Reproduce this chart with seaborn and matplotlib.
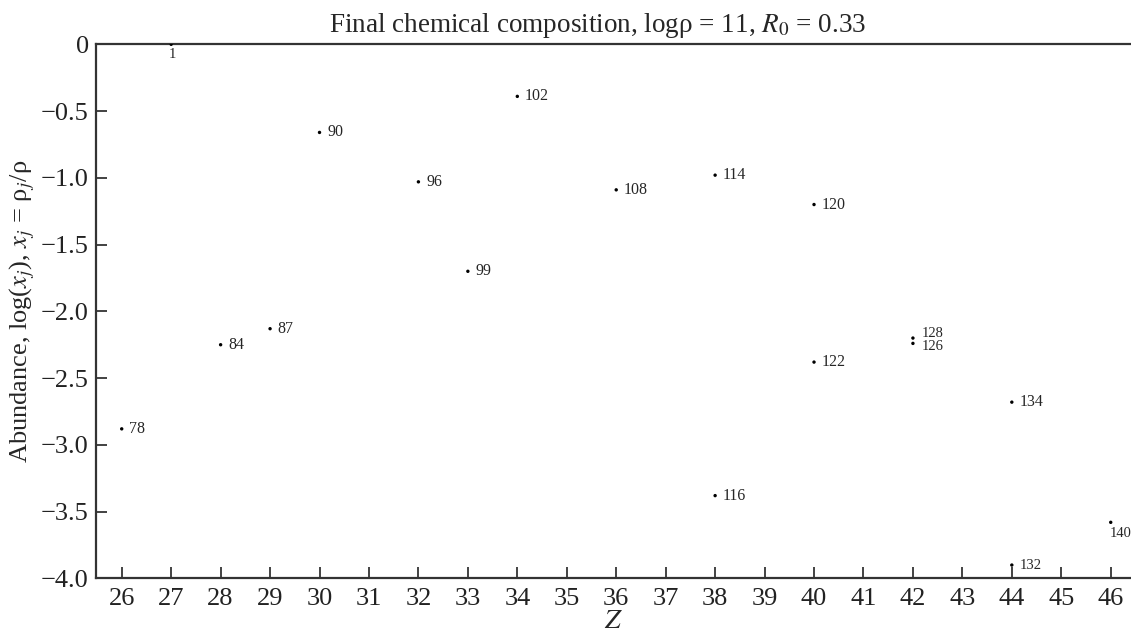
import matplotlib
matplotlib.use("Agg")
import matplotlib.pyplot as plt
import seaborn as sns
import pandas as pd

# Final abundances: proton number, log mass fraction, mass number label
charge_z = [27, 26, 28, 29, 30, 32, 33, 34, 36, 38, 38, 40, 40, 42, 42, 44, 44, 46]
log_abundance = [0.0, -2.88, -2.25, -2.13, -0.66, -1.03, -1.70, -0.39, -1.09,
                 -0.98, -3.38, -1.20, -2.38, -2.20, -2.24, -2.68, -3.90, -3.58]
mass_number = ["1", "78", "84", "87", "90", "96", "99", "102", "108",
               "114", "116", "120", "122", "128", "126", "134", "132", "140"]

z_ticks = list(range(26, 47))
y_ticks = [0, -0.5, -1.0, -1.5, -2.0, -2.5, -3.0, -3.5, -4.0]
y_tick_labels = ["0", "\u22120.5", "\u22121.0", "\u22121.5", "\u22122.0",
                 "\u22122.5", "\u22123.0", "\u22123.5", "\u22124.0"]

sns.set_style("ticks")
plt.rcParams["font.family"] = ["Liberation Serif", "DejaVu Serif"]
plt.rcParams["mathtext.fontset"] = "stix"

df = pd.DataFrame({"Z": charge_z, "logx": log_abundance, "A": mass_number})

fig = plt.figure(figsize=(11.31, 6.28), dpi=100)
ax = fig.add_axes([95.7 / 1131, 1 - 578.4 / 628, 1 - 95.7 / 1131, (578.4 - 44.3) / 628])

sns.scatterplot(data=df, x="Z", y="logx", ax=ax, color="black", s=6,
                edgecolor="none", linewidth=0, zorder=3)

# label offsets in points (dx, dy, ha, va)
offsets = {"1": (1, -7.5, "center", "center"),
           "128": (6.5, 3.5, "left", "center"),
           "126": (6.5, -2.5, "left", "center"),
           "140": (-0.5, -3.5, "left", "top")}
for z, v, a in zip(charge_z, log_abundance, mass_number):
    dx, dy, ha, va = offsets.get(a, (5.5, 0, "left", "center"))
    size = 10.5 if a in ("1", "128", "126", "132", "140") else 11.5
    ax.annotate(a, (z, v), xytext=(dx, dy), textcoords="offset points",
                ha=ha, va=va, fontsize=size, annotation_clip=False)

ax.set_xlim(25.474, 46.41)
ax.set_ylim(-4.0, 0.0)
ax.set_xticks(z_ticks)
ax.set_xticklabels([str(t) for t in z_ticks])
ax.set_yticks(y_ticks)
ax.set_yticklabels(y_tick_labels)
ax.tick_params(axis="both", direction="in", length=8, width=1.2,
               labelsize=19, colors="#222222")
ax.tick_params(axis="x", pad=7)
ax.tick_params(axis="y", pad=5)

for side in ("left", "top", "bottom"):
    ax.spines[side].set_linewidth(1.6)
    ax.spines[side].set_color("#333333")
ax.spines["right"].set_visible(False)

ax.set_xlabel("$Z$", fontsize=20, labelpad=-1)
ax.set_ylabel("Abundance, log($x_j$), $x_j$ = \u03c1$_j$/\u03c1", fontsize=19,
              labelpad=3)
ax.set_title("Final chemical composition, log\u03c1 = 11, $R_0$ = 0.33",
             fontsize=19.5, x=0.485, pad=9)

fig.savefig("out.png", dpi=100)
